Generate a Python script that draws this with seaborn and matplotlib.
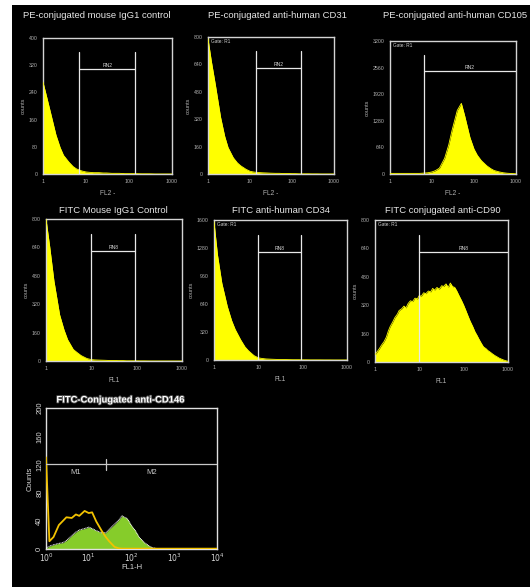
import numpy as np
import pandas as pd
import matplotlib
matplotlib.use("Agg")
import matplotlib.pyplot as plt
import seaborn as sns
from matplotlib.patches import Rectangle
from matplotlib.ticker import FixedLocator, NullFormatter
import matplotlib.patheffects as pe

# ---------------- data ----------------
grid3 = [1, 1.2, 1.5, 2, 2.5, 3, 4, 5, 6, 8, 10, 12, 15, 20, 25, 30, 40, 50, 60, 80,
         100, 120, 150, 200, 250, 300, 400, 500, 600, 800, 1000]

pe_igg1 = [270, 230, 180, 115, 78, 55, 35, 22, 15, 9, 6, 5, 4, 4, 3, 3, 2, 2, 2, 1,
           1, 1, 1, 0.5, 0.5, 0.5, 0, 0, 0, 0, 0]
pe_cd31 = [790, 660, 520, 330, 220, 155, 95, 65, 48, 28, 16, 12, 9, 7, 6, 5, 4, 4, 3, 3,
           2, 2, 1, 1, 1, 0.5, 0.5, 0, 0, 0, 0]
pe_cd105 = [15, 15, 15, 15, 15, 15, 15, 15, 20, 30, 50, 80, 140, 380, 700, 1050, 1530, 1700, 1400, 880,
            600, 450, 320, 200, 130, 85, 50, 30, 20, 10, 5]
fitc_igg1 = [800, 650, 450, 260, 175, 120, 65, 45, 30, 14, 8, 6, 5, 4, 3, 3, 2, 2, 1, 1,
             1, 0.5, 0.5, 0, 0, 0, 0, 0, 0, 0, 0]
fitc_cd34 = [1580, 1200, 880, 610, 450, 350, 230, 150, 105, 50, 25, 18, 12, 9, 7, 6, 5, 4, 3, 3,
             2, 2, 1, 1, 1, 0.5, 0.5, 0, 0, 0, 0]

grid_fine = [1, 1.1, 1.25, 1.4, 1.6, 1.8, 2, 2.2, 2.5, 2.8, 3.2, 3.5, 4, 4.5, 5, 5.6, 6.3, 7, 8, 9,
             10, 11, 12.5, 14, 16, 18, 20, 22, 25, 28, 32, 35, 40, 45, 50, 56, 63, 70, 80, 90,
             100, 110, 125, 140, 160, 180, 200, 220, 250, 280, 320, 350, 400, 450, 500, 560, 630, 700, 800, 900,
             1000]
fitc_cd90 = [40, 55, 75, 95, 115, 140, 175, 200, 225, 250, 270, 290, 300, 315, 305, 330, 345, 340, 360, 355,
             375, 370, 390, 385, 400, 395, 415, 405, 420, 410, 430, 425, 440, 420, 445, 425, 420, 400, 370, 345,
             320, 295, 260, 230, 200, 170, 150, 130, 105, 85, 75, 65, 55, 45, 37, 30, 22, 17, 11, 7,
             4]

grid4 = grid3 + [1200, 1500, 2000, 2500, 3000, 4000, 5000, 6000, 8000, 10000]
cd146_control = [130, 11, 17, 34, 40, 45, 44, 49, 47, 54, 51, 52, 39, 26, 17, 11, 3, 1, 0.5, 0.5,
                 0.5, 0.5, 0.5, 0.5, 0.5, 0.5, 0.5, 0.5, 0.5, 0.5, 0.5,
                 0.5, 0.5, 0.5, 0.5, 0.5, 0.5, 0.5, 0.5, 0.5, 0.5]
cd146_stained = [1, 4, 6, 8, 9, 12, 19, 24, 27, 29, 31, 29, 26, 23, 23, 28, 35, 41, 47, 43,
                 33, 27, 17, 9, 5, 2, 0.5, 0, 0, 0, 0,
                 0, 0, 0, 0, 0, 0, 0, 0, 0, 0]

titles = ["PE-conjugated mouse IgG1 control", "PE-conjugated anti-human CD31",
          "PE-conjugated anti-human CD105", "FITC Mouse IgG1 Control",
          "FITC anti-human CD34", "FITC conjugated anti-CD90"]
yticks_sets = [[0, 80, 160, 240, 320, 400], [0, 160, 320, 480, 640, 800],
               [0, 640, 1280, 1920, 2560, 3200], [0, 160, 320, 480, 640, 800],
               [0, 320, 640, 960, 1280, 1600], [0, 160, 320, 480, 640, 800]]
xlabels = ["FL2 -", "FL2 -", "FL2 -", "FL1", "FL1", "FL1"]
gates = [(7, 138), (14, 160), (6.5, 1000), (10, 92), (10, 92), (10, 1000)]
gate_labels = ["RN2", "RN2", "RN2", "RN8", "RN8", "RN8"]
gate_notes = [False, True, True, False, True, True]
x_ticklabels = ["1", "10", "100", "1000"]
series = [(grid3, pe_igg1), (grid3, pe_cd31), (grid3, pe_cd105),
          (grid3, fitc_igg1), (grid3, fitc_cd34), (grid_fine, fitc_cd90)]

cd146_title = "FITC-Conjugated anti-CD146"
cd146_markers = [("M1", 1, 25), ("M2", 25, 10000)]
marker_level = 120

# ---------------- layout ----------------
sns.set_theme(style="dark")
plt.rcParams['font.family'] = ['Liberation Sans', 'DejaVu Sans']

W, H = 530, 587
fig = plt.figure(figsize=(W / 100, H / 100), dpi=100, facecolor='white')
fig.patches.append(Rectangle((12 / W, 0), 1 - 12 / W, (H - 5) / H, transform=fig.transFigure,
                             facecolor='black', edgecolor='none', zorder=-10))


def px_axes(l, t, r, b):
    return fig.add_axes([l / W, 1 - b / H, (r - l) / W, (b - t) / H])


boxes = [(43, 38, 172, 174), (208, 37, 334, 174), (390, 41, 516, 174),
         (46, 219, 182, 361), (214, 220, 347, 360), (375, 220, 508, 362)]
title_pos = [(97, 15), (277, 15), (455, 15), (113, 210), (281, 210), (443, 210)]

FR = '#d4d4d4'
GL = '#e8e8e8'
TK = '#b0b0b0'

for i in range(6):
    ax = px_axes(*boxes[i])
    xs, ys = series[i]
    df = pd.DataFrame({"x": xs, "y": ys})
    ax.fill_between(df["x"], 0, df["y"], color='#ffff00', linewidth=0, zorder=2)
    sns.lineplot(data=df, x="x", y="y", ax=ax, color='#ffff00', linewidth=0.6, zorder=3)
    ax.set_facecolor('black')
    ax.set_xscale('log')
    ax.set_xlim(1, 1000)
    yt = yticks_sets[i]
    ax.set_ylim(0, yt[-1])
    ax.set_yticks(yt)
    ax.set_yticklabels([str(v) for v in yt])
    ax.yaxis.set_minor_locator(FixedLocator([yt[1] / 2 + k * yt[1] for k in range(5)]))
    ax.set_xticks([1, 10, 100, 1000])
    ax.set_xticklabels(x_ticklabels)
    ax.xaxis.set_minor_locator(FixedLocator([m * d for d in (1, 10, 100) for m in range(2, 10)]))
    ax.xaxis.set_minor_formatter(NullFormatter())
    ax.tick_params(which='major', colors=TK, labelsize=3.8, length=2.2, width=0.6, pad=1.5)
    ax.tick_params(which='minor', colors=TK, length=1.2, width=0.5)
    for s in ax.spines.values():
        s.set_color(FR)
        s.set_linewidth(1.0)
    ax.grid(False)
    ax.set_ylabel("counts", color=TK, fontsize=4, labelpad=2)
    ax.set_xlabel(xlabels[i], color=TK, fontsize=4.8, labelpad=4)
    g0, g1 = gates[i]
    trans = ax.get_xaxis_transform()
    ax.plot([g0, g0], [0, 0.895], color=GL, lw=0.9, transform=trans, zorder=4)
    if g1 < 1000:
        ax.plot([g1, g1], [0, 0.895], color=GL, lw=0.9, transform=trans, zorder=4)
    ax.plot([g0, g1], [0.772, 0.772], color=GL, lw=0.9, transform=trans, zorder=4)
    ax.text(np.sqrt(g0 * g1), 0.78, gate_labels[i], transform=trans, color=FR,
            fontsize=3.6, ha='center', va='bottom')
    if gate_notes[i]:
        ax.text(0.02, 0.985, "Gate: R1", transform=ax.transAxes, color=FR, fontsize=3.4,
                ha='left', va='top')
    tx, ty = title_pos[i]
    fig.text(tx / W, 1 - ty / H, titles[i], color='#e6e6e6', fontsize=6.8,
             ha='center', va='center')

# ---------------- CD146 panel ----------------
ax = px_axes(46, 408, 217, 549)
df_s = pd.DataFrame({"x": grid4, "y": cd146_stained})
df_c = pd.DataFrame({"x": grid4, "y": cd146_control})
ax.fill_between(df_s["x"], 0, df_s["y"], color='#86cc2a', linewidth=0, zorder=2)
sns.lineplot(data=df_s, x="x", y="y", ax=ax, color='white', linewidth=0.7,
             linestyle=(0, (1, 0.6)), zorder=3)
sns.lineplot(data=df_c, x="x", y="y", ax=ax, color='#f2c200', linewidth=1.3, zorder=4)
ax.set_facecolor('black')
ax.set_xscale('log')
ax.set_xlim(1, 10000)
ax.set_ylim(0, 200)
ax.set_xticks([1, 10, 100, 1000, 10000])
ax.set_xticklabels([r"$10^0$", r"$10^1$", r"$10^2$", r"$10^3$", r"$10^4$"])
ax.xaxis.set_minor_locator(FixedLocator([m * d for d in (1, 10, 100, 1000) for m in range(2, 10)]))
ax.xaxis.set_minor_formatter(NullFormatter())
ax.set_yticks([0, 40, 80, 120, 160, 200])
ax.yaxis.set_minor_locator(FixedLocator(list(range(10, 200, 10))))
ax.tick_params(axis='y', which='major', labelrotation=90)
for lab in ax.get_yticklabels():
    lab.set_va('center')
ax.tick_params(which='major', colors='#d8d8d8', labelsize=5.5, length=3, width=0.8,
               direction='in', pad=2)
ax.tick_params(which='minor', colors='#d8d8d8', length=1.8, width=0.6, direction='in')
for s in ax.spines.values():
    s.set_color('#e0e0e0')
    s.set_linewidth(1.0)
ax.grid(False)
ax.set_ylabel("Counts", color='#d8d8d8', fontsize=5.5, labelpad=2)
ax.set_xlabel("FL1-H", color='#d8d8d8', fontsize=5.5, labelpad=0)
for name, a, b in cd146_markers:
    ax.plot([a, b], [marker_level, marker_level], color='#c8c8c8', lw=0.9, zorder=5)
    ax.text(np.sqrt(a * b) * (1.0 if name == "M1" else 0.6), marker_level - 6, name,
            color='#c8c8c8', fontsize=5.5, ha='center', va='top')
split = cd146_markers[0][2]
ax.plot([split, split], [marker_level - 8, marker_level + 8], color='#c8c8c8', lw=0.9, zorder=5)
fig.text(121 / W, 1 - 400 / H, cd146_title, color='white', fontsize=6.8, fontweight='bold',
         family=['Liberation Sans Narrow', 'Liberation Sans', 'DejaVu Sans'],
         ha='center', va='center',
         path_effects=[pe.withStroke(linewidth=1.2, foreground='#555555')])

fig.savefig("out.png", dpi=100, facecolor=fig.get_facecolor())
